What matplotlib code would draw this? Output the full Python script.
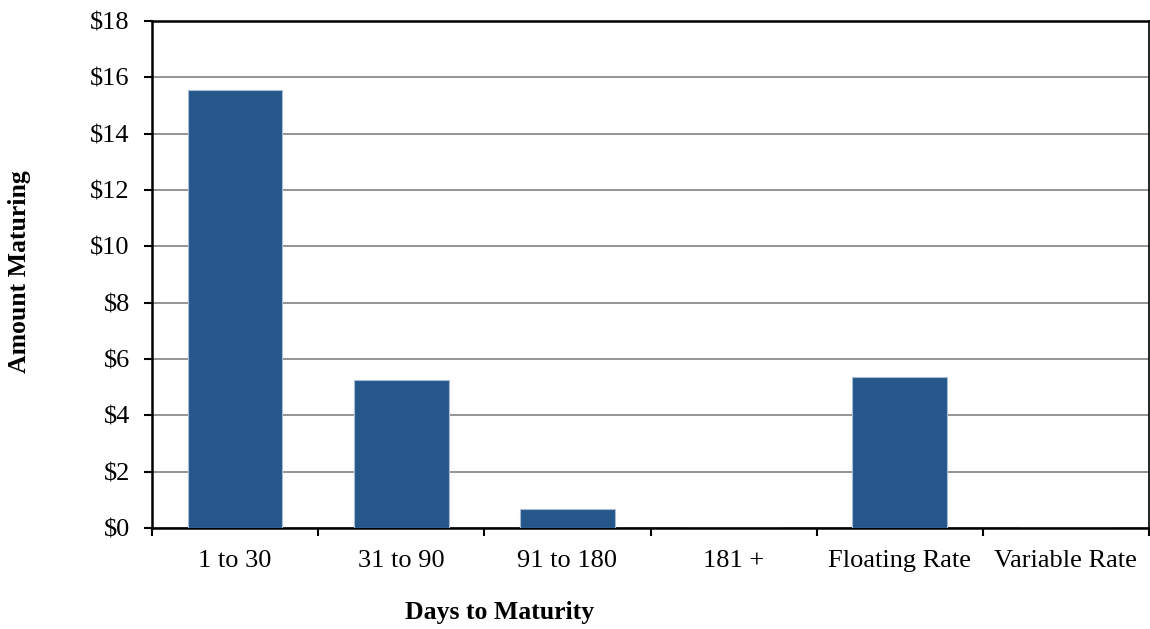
import matplotlib
matplotlib.use("Agg")
import matplotlib.pyplot as plt
import numpy as np

categories = ["1 to 30", "31 to 90", "91 to 180", "181 +", "Floating Rate", "Variable Rate"]
values = [15.56, 5.25, 0.66, 0.0, 5.37, 0.0]
yticks = [0, 2, 4, 6, 8, 10, 12, 14, 16, 18]
ytick_labels = ["$" + str(v) for v in yticks]

plt.rcParams['font.family'] = ['Liberation Serif', 'DejaVu Serif']

fig = plt.figure(figsize=(11.5, 6.29), dpi=100)
ax = fig.add_axes([152/1150, 1 - 528/629, (1149 - 152)/1150, (528 - 21)/629])

x = np.arange(len(categories))
ax.bar(x, values, width=0.57, color="#26578A", edgecolor="#A9BCD3", linewidth=0.8, zorder=3)

ax.set_xlim(-0.5, len(categories) - 0.5)
ax.set_ylim(0, 18)
ax.set_yticks(yticks)
ax.set_yticklabels(ytick_labels, fontsize=19)
ax.yaxis.grid(True, color="#8C8C8C", linewidth=1.3, zorder=0)
ax.set_axisbelow(True)

ax.set_xticks(np.arange(len(categories) + 1) - 0.5)
ax.set_xticklabels([])
ax.set_xticks(x, minor=True)
ax.set_xticklabels(categories, minor=True, fontsize=19)
ax.tick_params(axis='x', which='minor', length=0, pad=16)
ax.tick_params(axis='x', which='major', length=6, width=1.5, direction='out')
ax.tick_params(axis='y', length=6, width=1.5, direction='out', pad=10)

for s in ['left', 'bottom']:
    ax.spines[s].set_linewidth(1.8)
ax.spines['top'].set_linewidth(1.8)
ax.spines['right'].set_linewidth(1.2)

fig.text(500/1150, 1 - 612/629, "Days to Maturity", ha='center', va='center', fontsize=18.5, fontweight='bold')
fig.text(20/1150, 1 - 272/629, "Amount Maturing", ha='center', va='center', rotation=90, fontsize=18.5, fontweight='bold')

fig.savefig("out.png", dpi=100)
